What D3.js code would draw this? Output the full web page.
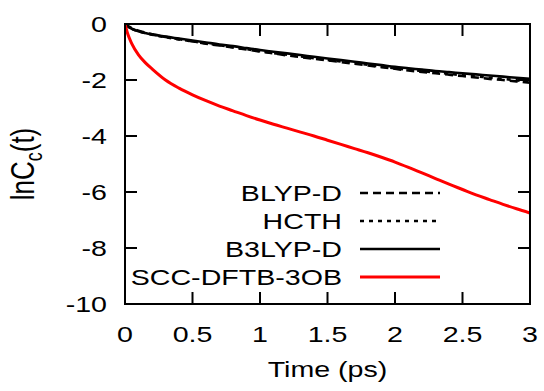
<!DOCTYPE html>
<html><head><meta charset="utf-8">
<script src="https://cdn.jsdelivr.net/npm/d3@7"></script>
<style>body{margin:0;background:#fff}svg{display:block}text{font-family:"Liberation Sans",Arial,sans-serif;fill:#000}</style>
</head><body>
<svg id="c" width="544" height="391"></svg>
<script>
const time = [0,0.02,0.05,0.1,0.15,0.2,0.3,0.4,0.5,0.6,0.7,0.8,0.9,1.0,1.1,1.2,1.3,1.4,1.5,1.6,1.7,1.8,1.9,2.0,2.1,2.2,2.3,2.4,2.5,2.6,2.7,2.8,2.9,3.0];
const scc = [0,-0.35,-0.7,-1.1,-1.38,-1.6,-2.0,-2.29,-2.53,-2.74,-2.93,-3.1,-3.27,-3.43,-3.58,-3.72,-3.86,-4.0,-4.15,-4.3,-4.45,-4.6,-4.76,-4.93,-5.12,-5.32,-5.52,-5.72,-5.91,-6.1,-6.27,-6.44,-6.6,-6.75];
const b3lyp = [0,-0.09,-0.17,-0.26,-0.32,-0.37,-0.45,-0.52,-0.59,-0.66,-0.73,-0.79,-0.86,-0.93,-0.99,-1.05,-1.11,-1.17,-1.23,-1.29,-1.35,-1.41,-1.47,-1.53,-1.58,-1.63,-1.68,-1.72,-1.76,-1.8,-1.84,-1.88,-1.92,-1.96];
const blyp = [0,-0.07,-0.15,-0.24,-0.31,-0.37,-0.46,-0.54,-0.62,-0.7,-0.77,-0.84,-0.91,-0.98,-1.05,-1.12,-1.18,-1.24,-1.3,-1.36,-1.42,-1.48,-1.54,-1.6,-1.66,-1.71,-1.76,-1.81,-1.86,-1.91,-1.96,-2.0,-2.05,-2.1];
const hcth = [0,-0.09,-0.17,-0.26,-0.33,-0.38,-0.47,-0.55,-0.62,-0.69,-0.76,-0.83,-0.9,-0.97,-1.04,-1.1,-1.16,-1.22,-1.28,-1.34,-1.4,-1.46,-1.52,-1.58,-1.63,-1.68,-1.73,-1.78,-1.83,-1.87,-1.92,-1.96,-2.01,-2.06];
const xTicks = [0,0.5,1,1.5,2,2.5,3];
const xTickLabels = ["0","0.5","1","1.5","2","2.5","3"];
const yTicks = [0,-2,-4,-6,-8,-10];
const yTickLabels = ["0","-2","-4","-6","-8","-10"];
const seriesNames = ["BLYP-D","HCTH","B3LYP-D","SCC-DFTB-3OB"];

const L=125,R=530,T=24,B=304, SX=1.3;
const svg=d3.select("#c");
const x=d3.scaleLinear().domain([0,3]).range([L,R]);
const y=d3.scaleLinear().domain([-10,0]).range([B,T]);

svg.append("defs").append("clipPath").attr("id","clip").append("rect")
  .attr("x",L).attr("y",T).attr("width",R-L).attr("height",B-T);

const styles=[
  {vals:blyp,color:"#000",dash:"8,5",w:2.6},
  {vals:hcth,color:"#000",dash:"4,5",w:2.6},
  {vals:b3lyp,color:"#000",dash:null,w:2.6},
  {vals:scc,color:"#ff0000",dash:null,w:3}
];
const line=d3.line().curve(d3.curveMonotoneX);
const g=svg.append("g").attr("clip-path","url(#clip)");
styles.forEach(s=>{
  g.append("path").attr("d",line(time.map((t,i)=>[x(t),y(s.vals[i])])))
   .attr("fill","none").attr("stroke",s.color).attr("stroke-width",s.w)
   .attr("stroke-dasharray",s.dash);
});

const tl=12;
const ax=svg.append("g").attr("stroke","#000").attr("stroke-width",2);
xTicks.forEach(t=>{
  ax.append("line").attr("x1",x(t)).attr("x2",x(t)).attr("y1",B).attr("y2",B-tl);
  ax.append("line").attr("x1",x(t)).attr("x2",x(t)).attr("y1",T).attr("y2",T+tl);
});
yTicks.forEach(v=>{
  ax.append("line").attr("x1",L).attr("x2",L+tl).attr("y1",y(v)).attr("y2",y(v));
  ax.append("line").attr("x1",R).attr("x2",R-tl).attr("y1",y(v)).attr("y2",y(v));
});
ax.append("rect").attr("x",L).attr("y",T).attr("width",R-L).attr("height",B-T).attr("fill","none");

function txt(px,py,anchor,str,fs){
  return svg.append("text").attr("transform",`translate(${px},${py}) scale(${SX},1)`)
    .attr("text-anchor",anchor).attr("font-size",fs||22).text(str);
}
xTicks.forEach((t,i)=>txt(x(t),342,"middle",xTickLabels[i]));
yTicks.forEach((v,i)=>txt(107,y(v)+8,"end",yTickLabels[i]));
txt((L+R)/2,377,"middle","Time (ps)");

const yt=svg.append("text").attr("transform",`translate(34,${(T+B)/2}) scale(${SX},1) rotate(-90)`)
  .attr("text-anchor","middle").attr("font-size",26);
yt.append("tspan").text("lnC");
yt.append("tspan").attr("font-size",18).attr("dy",6).text("c");
yt.append("tspan").attr("dy",-6).text("(t)");

seriesNames.forEach((n,i)=>{
  const cy=193+i*28;
  txt(342,cy+8,"end",n);
  const s=styles[i];
  svg.append("line").attr("x1",360).attr("x2",440).attr("y1",cy).attr("y2",cy)
    .attr("stroke",s.color).attr("stroke-width",s.w).attr("stroke-dasharray",s.dash);
});
</script>
</body></html>
